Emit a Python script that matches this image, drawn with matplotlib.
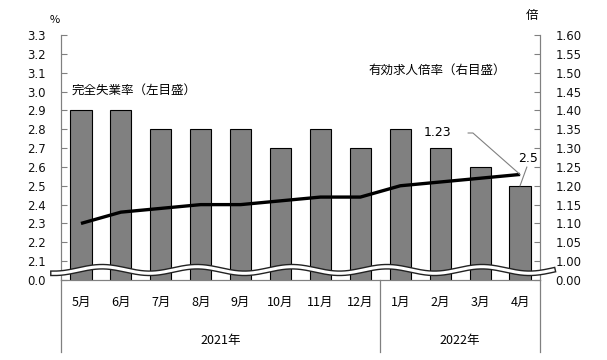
import numpy as np
import matplotlib
matplotlib.use("Agg")
import matplotlib.pyplot as plt
from matplotlib.transforms import blended_transform_factory

plt.rcParams['font.family'] = ['DejaVu Sans', 'Noto Sans CJK JP']

# データ
months = ['5月', '6月', '7月', '8月', '9月', '10月', '11月', '12月', '1月', '2月', '3月', '4月']
years = ['2021年', '2022年']
year_span = [(0, 7), (8, 11)]
unemp = [2.9, 2.9, 2.8, 2.8, 2.8, 2.7, 2.8, 2.7, 2.8, 2.7, 2.6, 2.5]          # 完全失業率 (%)
ratio = [1.10, 1.13, 1.14, 1.15, 1.15, 1.16, 1.17, 1.17, 1.20, 1.21, 1.22, 1.23]  # 有効求人倍率 (倍)

left_ticks = [2.0, 2.1, 2.2, 2.3, 2.4, 2.5, 2.6, 2.7, 2.8, 2.9, 3.0, 3.1, 3.2, 3.3]
right_ticks = [0.95, 1.00, 1.05, 1.10, 1.15, 1.20, 1.25, 1.30, 1.35, 1.40, 1.45, 1.50, 1.55, 1.60]

grey = '#808080'
jp = ['Noto Sans CJK JP', 'DejaVu Sans']

fig = plt.figure(figsize=(6.07, 3.60), dpi=100)
ax = fig.add_axes([61/607, 1-280/360, 479/607, 245/360])
ax2 = ax.twinx()

x = np.arange(len(months))
ax.bar(x, unemp, width=0.53, color=grey, edgecolor='black', linewidth=0.8, zorder=2)
ax.set_xlim(-0.5, len(months) - 0.5)
ax.set_ylim(2.0, 3.3)
ax2.set_ylim(0.95, 1.60)

ax2.plot(x, ratio, color='black', lw=2.4, solid_capstyle='butt', zorder=3)

# 軸
ax.set_yticks(left_ticks)
ax.set_yticklabels(['0.0'] + [f'{t:.1f}' for t in left_ticks[1:]])
ax2.set_yticks(right_ticks)
ax2.set_yticklabels(['0.00'] + [f'{t:.2f}' for t in right_ticks[1:]])
ax.set_xticks([])
for a in (ax, ax2):
    a.tick_params(axis='y', direction='in', length=4, color=grey, labelsize=8.5,
                  labelcolor='#111111', pad=11)
    a.spines['top'].set_visible(False)
    for s in ('left', 'right', 'bottom'):
        a.spines[s].set_color(grey)
ax.patch.set_visible(False)

# 月・年ラベル
tr = blended_transform_factory(ax.transData, ax.transAxes)
for i, m in enumerate(months):
    ax.text(i, -0.09, m, transform=tr, ha='center', va='center', fontsize=9, family=jp)
for (a0, a1), yl in zip(year_span, years):
    ax.text((a0 + a1) / 2, -0.245, yl, transform=tr, ha='center', va='center', fontsize=9, family=jp)
for xs in (-0.5, 7.5, 11.5):
    ax.plot([xs, xs], [0, -0.294], transform=tr, color=grey, lw=0.9, clip_on=False)

# 波線（省略記号）
wx = np.linspace(53, 553, 400)
wy = 270 - 3.3 * np.cos(2 * np.pi * (wx - 102) / 95)
fx = wx / 607
fy = 1 - wy / 360
fig.add_artist(plt.Line2D(fx, fy, transform=fig.transFigure, color='#222222', lw=4.2, zorder=5))
fig.add_artist(plt.Line2D(fx, fy, transform=fig.transFigure, color='white', lw=2.2, zorder=6))

# 注記
fig.text(55/607, 1-20/360, '%', fontsize=8, ha='center', va='center', family=jp)
fig.text(532/607, 1-16/360, '倍', fontsize=9, ha='center', va='center', family=jp)
fig.text(72/607, 1-90/360, '完全失業率（左目盛）', fontsize=9, ha='left', va='center', family=jp)
fig.text(368/607, 1-70/360, '有効求人倍率（右目盛）', fontsize=9, ha='left', va='center', family=jp)

last = len(months) - 1
ax2.plot([last, 9.82, 9.70], [ratio[-1], 1.340, 1.340], color=grey, lw=0.8, zorder=4)
ax2.text(9.29, 1.342, f'{ratio[-1]:.2f}', ha='right', va='center', fontsize=9)
ax.plot([last, 11.17], [unemp[-1], 2.599], color=grey, lw=0.8, zorder=4, clip_on=False)
ax.text(11.19, 2.647, f'{unemp[-1]}', ha='center', va='center', fontsize=9)

fig.savefig('out.png', dpi=100)
